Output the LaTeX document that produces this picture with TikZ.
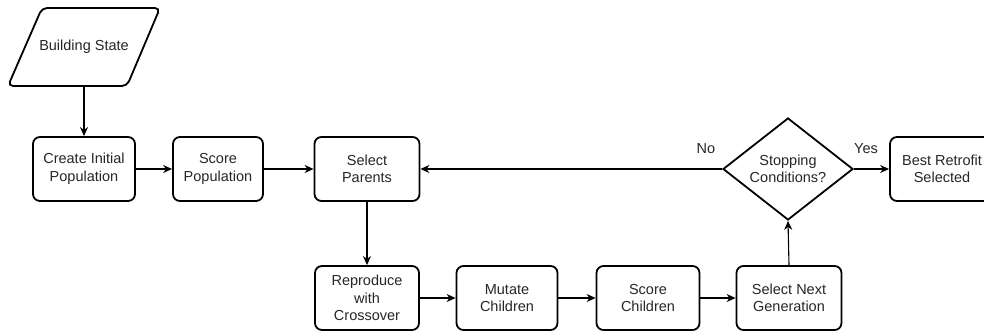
\documentclass[tikz,border=0pt]{standalone}
\usepackage{fontspec}
\setmainfont{Liberation Sans}
\usetikzlibrary{shapes.geometric,arrows.meta}
\begin{document}
\begin{tikzpicture}[x=1pt,y=-1pt,
  txt/.style={font=\fontsize{14.5}{17.5}\selectfont, text=black!85},
  box/.style={txt, draw, line width=1.8pt, rounded corners=7pt, align=center, inner sep=0pt},
  dia/.style={txt, draw, line width=1.8pt, diamond, aspect=1.27, align=center, inner sep=0pt,
    minimum width=130pt, minimum height=102pt},
  conn/.style={line width=1.1pt, -{Stealth[length=9pt,width=8pt]}}]
\useasboundingbox (0,0) rectangle (984,334);
% Building State parallelogram
\draw[line width=1.8pt, rounded corners=5pt] (42,8) -- (160,8) -- (127,86) -- (8,86) -- cycle;
\node[txt, minimum width=80pt, minimum height=78pt, inner sep=0pt] (bs) at (84,47) {Building State};
% top row
\node[box, minimum width=102pt, minimum height=64pt] (cip) at (84,169) {Create Initial\\Population};
\node[box, minimum width=90pt, minimum height=64pt] (sp) at (218,169) {Score\\Population};
\node[box, minimum width=105pt, minimum height=64pt] (sel) at (367,169) {Select\\Parents};
\node[dia] (stop) at (788,169) {Stopping\\Conditions?};
\node[box, minimum width=104pt, minimum height=64pt] (best) at (942,169) {Best Retrofit\\Selected};
% bottom row
\node[box, minimum width=104pt, minimum height=64pt] (rep) at (367,298) {Reproduce\\with\\Crossover};
\node[box, minimum width=101pt, minimum height=64pt] (mut) at (507,298) {Mutate\\Children};
\node[box, minimum width=103pt, minimum height=64pt] (sc) at (648,298) {Score\\Children};
\node[box, minimum width=105pt, minimum height=64pt] (sng) at (789,298) {Select Next\\Generation};
% connectors
\draw[conn] (bs.south) -- (cip.north);
\draw[conn] (cip) -- (sp);
\draw[conn] (sp) -- (sel);
\draw[conn] (stop.west) -- (sel.east);
\draw[conn] (stop.east) -- (best.west);
\draw[conn] (sel.south) -- (rep.north);
\draw[conn] (rep) -- (mut);
\draw[conn] (mut) -- (sc);
\draw[conn] (sc) -- (sng);
\draw[conn] (sng.north) -- (stop.south);
\node[txt] (no) at (706,149) {No};
\node[txt] (yes) at (866,149) {Yes};
\end{tikzpicture}
\end{document}
